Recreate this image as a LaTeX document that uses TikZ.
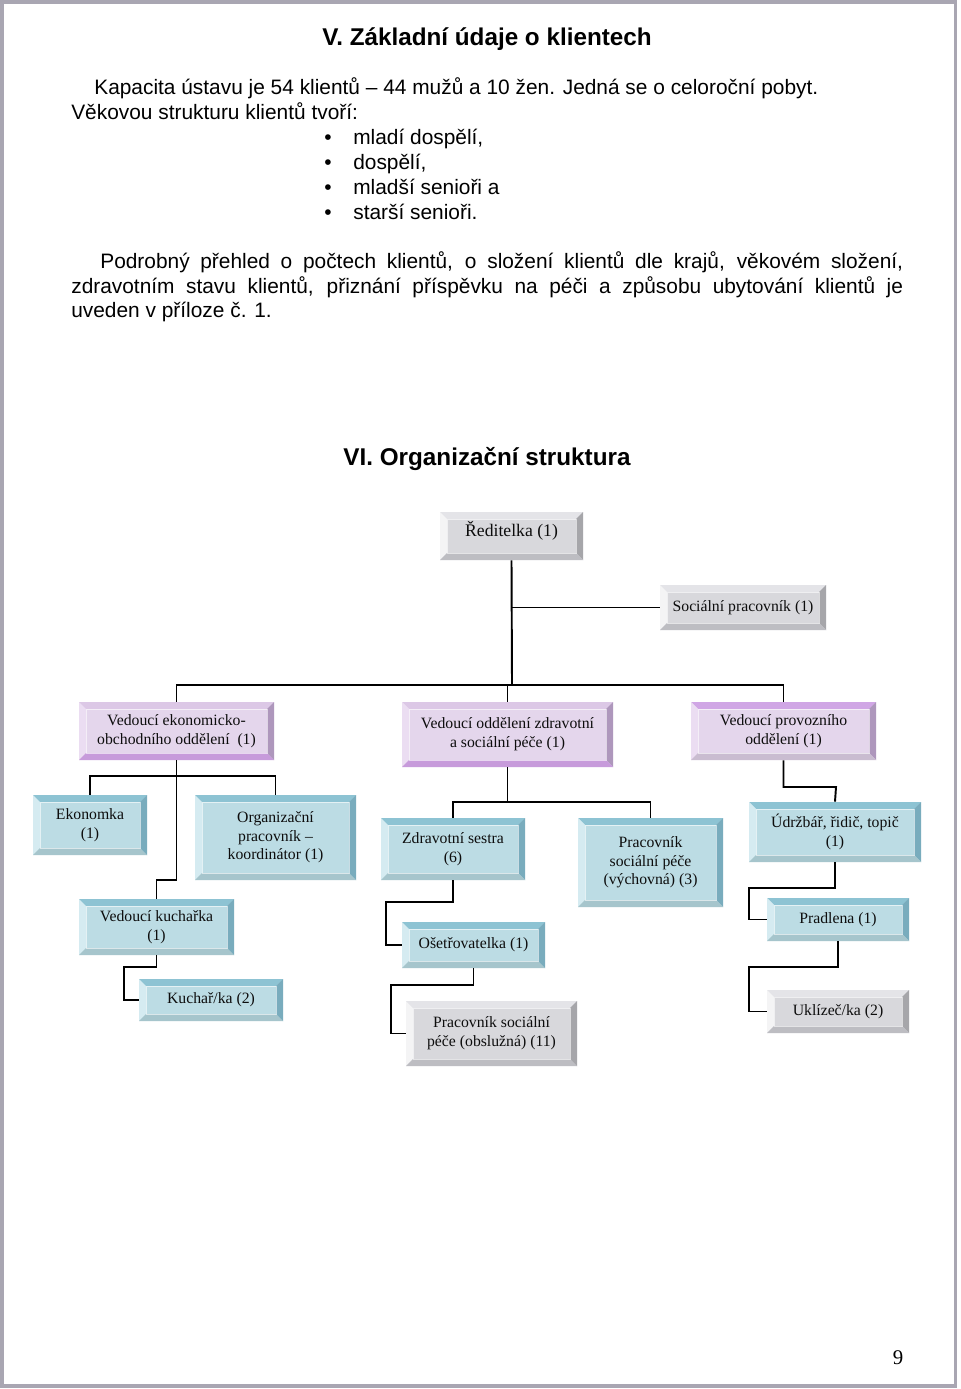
\documentclass[tikz,border=0pt]{standalone}
\usepackage{fontspec}
\setmainfont{Liberation Serif}
\newfontfamily\arial{Liberation Sans}
\definecolor{pageframe}{HTML}{A9A6B2}
\definecolor{gface}{HTML}{D8D8DC}
\definecolor{gtop}{HTML}{E4E4E8}
\definecolor{gleft}{HTML}{F4F4F5}
\definecolor{gright}{HTML}{A6A6AA}
\definecolor{gbot}{HTML}{BDBDC2}
\definecolor{pface}{HTML}{E4D6EC}
\definecolor{ptopl}{HTML}{DCC8E6}
\definecolor{ptops}{HTML}{D0A6E5}
\definecolor{pleft}{HTML}{EBDDF2}
\definecolor{pright}{HTML}{AE97BC}
\definecolor{pbots}{HTML}{C79BDB}
\definecolor{pbotl}{HTML}{C9BCD0}
\definecolor{tface}{HTML}{BCDCE4}
\definecolor{ttop}{HTML}{8DC3D3}
\definecolor{tleft}{HTML}{D5EBF1}
\definecolor{tright}{HTML}{79ACBD}
\definecolor{tbot}{HTML}{A6C5CC}
\tikzset{
  bev/.style n args={5}{fill=#1, inner sep=0pt, align=center,
    font=\fontsize{9.8}{11.6}\selectfont, text=black!95,
    path picture={
      \def\bw{4.3pt}
      \fill[#2] (path picture bounding box.north west) -- (path picture bounding box.north east)
        -- ([xshift=-\bw,yshift=-\bw]path picture bounding box.north east)
        -- ([xshift=\bw,yshift=-\bw]path picture bounding box.north west) -- cycle;
      \fill[#3] (path picture bounding box.north west) -- ([xshift=\bw,yshift=-\bw]path picture bounding box.north west)
        -- ([xshift=\bw,yshift=\bw]path picture bounding box.south west) -- (path picture bounding box.south west) -- cycle;
      \fill[#4] (path picture bounding box.north east) -- ([xshift=-\bw,yshift=-\bw]path picture bounding box.north east)
        -- ([xshift=-\bw,yshift=\bw]path picture bounding box.south east) -- (path picture bounding box.south east) -- cycle;
      \fill[#5] (path picture bounding box.south west) -- ([xshift=\bw,yshift=\bw]path picture bounding box.south west)
        -- ([xshift=-\bw,yshift=\bw]path picture bounding box.south east) -- (path picture bounding box.south east) -- cycle;
      \draw[white, opacity=0.6, line width=0.4pt] ([xshift=\bw,yshift=-\bw]path picture bounding box.north west)
        rectangle ([xshift=-\bw,yshift=\bw]path picture bounding box.south east);
    }},
  greybox/.style={bev={gface}{gtop}{gleft}{gright}{gbot}},
  purpA/.style={bev={pface}{ptopl}{pleft}{pright}{pbots}},
  purpB/.style={bev={pface}{ptops}{pleft}{pright}{pbotl}},
  tealbox/.style={bev={tface}{ttop}{tleft}{tright}{tbot}},
  bigtext/.style={font=\fontsize{11}{13}\selectfont},
  conn/.style={line width=1.2pt, black},
  body/.style={font=\arial\fontsize{13}{15.5}\selectfont, inner sep=0pt, anchor=base west},
  head/.style={font=\arial\bfseries\fontsize{15.1}{18}\selectfont, inner sep=0pt, anchor=base},
}
\newcommand\obox[7]{\node[#6, minimum width={(#4-#2)*0.021875cm}, minimum height={(#5-#3)*0.021875cm}] (#1) at ({(#2+#4)/2},{(#3+#5)/2}) {#7};}
\begin{document}
\begin{tikzpicture}[x=0.021875cm,y=-0.021875cm]
\useasboundingbox (0,0) rectangle (960,1389);
\fill[white] (0,0) rectangle (960,1389);
\draw[pageframe, line width=1.9pt] (2,2) rectangle (955.5,1386);

% ---- section V ----
\node[head] (h1) at (487,46) {V. Základní údaje o klientech};
\node[body] (t1) at (94,95) {Kapacita ústavu je 54 klientů – 44 mužů a 10 žen. Jedná se o celoroční pobyt.};
\node[body] (t2) at (71,120) {Věkovou strukturu klientů tvoří:};
\node[body] (b1) at (324,145) {•};
\node[body] (b2) at (324,170) {•};
\node[body] (b3) at (324,195) {•};
\node[body] (b4) at (324,220) {•};
\node[body] (l1) at (353,145) {mladí dospělí,};
\node[body] (l2) at (353,170) {dospělí,};
\node[body] (l3) at (353,195) {mladší senioři a};
\node[body] (l4) at (353,220) {starší senioři.};
\node[body] (p1) at (100,269) {\makebox[17.566cm][s]{Podrobný přehled o počtech klientů, o složení klientů dle krajů, věkovém složení,}};
\node[body] (p2) at (71,294) {\makebox[18.2cm][s]{zdravotním stavu klientů, přiznání příspěvku na péči a způsobu ubytování klientů je}};
\node[body] (p3) at (71,318) {uveden v příloze č. 1.};

% ---- section VI ----
\node[head] (h2) at (487,465) {VI. Organizační struktura};

\obox{red}{440}{512}{583}{560}{greybox,bigtext}{\raisebox{3pt}[\height][\depth]{Ředitelka (1)}}
\obox{soc}{660}{585}{826}{630}{greybox}{Sociální pracovník (1)}
\obox{veo}{79}{702}{274}{760}{purpA}{Vedoucí ekonomicko-\\obchodního oddělení\ \ (1)}
\obox{vzs}{402}{702}{613}{767}{purpA}{Vedoucí oddělení zdravotní\\a sociální péče (1)}
\obox{vpo}{691}{702}{876}{760}{purpB}{Vedoucí provozního\\oddělení (1)}
\obox{eko}{33}{795}{147}{855}{tealbox}{Ekonomka\\(1)}
\obox{org}{195}{795}{356}{880}{tealbox}{Organizační\\pracovník –\\koordinátor (1)}
\obox{zs}{381}{818}{525}{880}{tealbox}{Zdravotní sestra\\(6)}
\obox{psv}{578}{818}{723}{907}{tealbox}{Pracovník\\sociální péče\\(výchovná) (3)}
\obox{udr}{749}{802}{921}{862}{tealbox}{Údržbář, řidič, topič\\(1)}
\obox{vk}{79}{899}{234}{955}{tealbox}{Vedoucí kuchařka\\(1)}
\obox{ose}{402}{922}{545}{968}{tealbox}{Ošetřovatelka (1)}
\obox{pra}{767}{898}{909}{941}{tealbox}{Pradlena (1)}
\obox{kuc}{139}{979}{283}{1021}{tealbox}{Kuchař/ka (2)}
\obox{pso}{406}{1001}{577}{1066}{greybox}{Pracovník sociální\\péče (obslužná) (11)}
\obox{ukl}{767}{990}{909}{1033}{greybox}{Uklízeč/ka (2)}

% ---- connectors ----
\coordinate (bus) at (512,685);
\coordinate (eb) at (177,776);
\coordinate (ek) at (177,880);
\coordinate (kk) at (124,967);
\coordinate (zb) at (508,802);
\coordinate (zo) at (386,902);
\coordinate (op) at (391,985);
\coordinate (pu) at (836,787);
\coordinate (up) at (749,888);
\coordinate (pk) at (749,967);

\draw[conn] (red.south) -- (bus);
\draw[conn] (red.south |- soc.west) -- (soc.west);
\draw[conn] (veo.north) -- (veo.north |- bus) -- (vpo.north |- bus) -- (vpo.north);
\draw[conn] (vzs.north) -- (vzs.north |- bus);

\draw[conn] (veo.south) -- (veo.south |- eb);
\draw[conn] (eko.north) -- (eko.north |- eb) -- (org.north |- eb) -- (org.north);
\draw[conn] (veo.south |- eb) -- (veo.south |- ek) -| (vk.north);
\draw[conn] (vk.south) |- (kk) |- (kuc.west);

\draw[conn] (vzs.south) -- (vzs.south |- zb);
\draw[conn] (zs.north) -- (zs.north |- zb) -- (psv.north |- zb) -- (psv.north);
\draw[conn] (zs.south) |- (zo) |- (ose.west);
\draw[conn] (ose.south) |- (op) |- (pso.west);

\draw[conn] (vpo.south) |- (pu) -- (udr.north);
\draw[conn] (udr.south) |- (up) |- (pra.west);
\draw[conn] (pra.south) |- (pk) |- (ukl.west);

\node[font=\fontsize{13}{15}\selectfont, inner sep=0pt, anchor=base] (pn) at (898,1364) {9};
\end{tikzpicture}
\end{document}
